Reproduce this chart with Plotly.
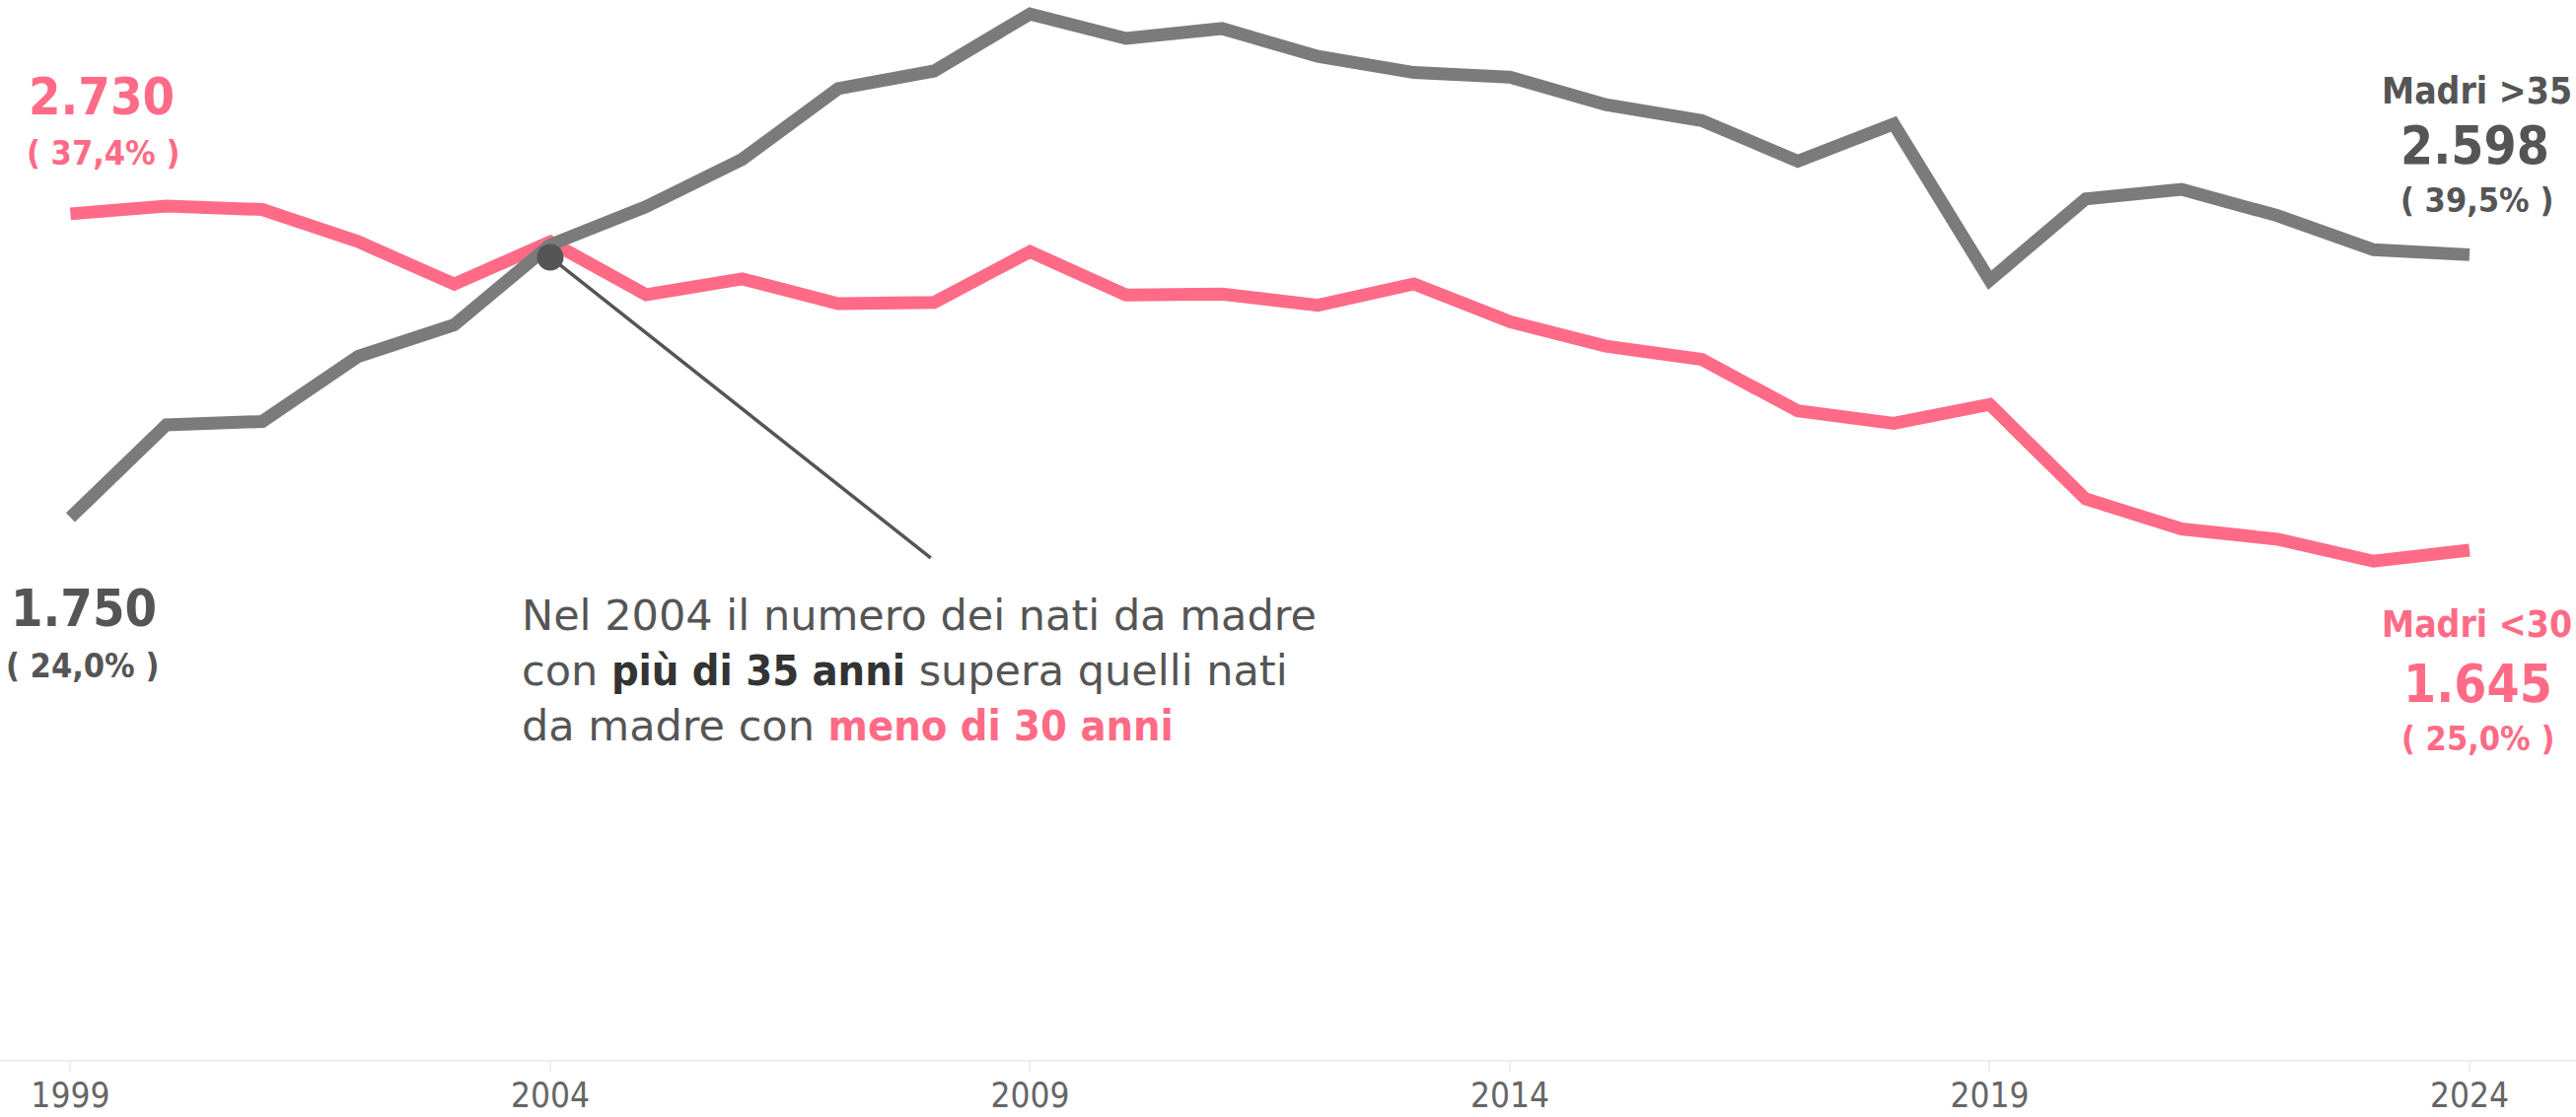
import plotly.graph_objects as go

# ---------------- data ----------------
years = list(range(1999, 2025))
madri_over35 = [1750, 2049, 2060, 2270, 2372, 2630, 2753, 2906, 3134, 3191,
                3375, 3296, 3328, 3238, 3186, 3171, 3082, 3031, 2900, 3020,
                2516, 2778, 2809, 2724, 2614, 2598]
madri_under30 = [2730, 2755, 2744, 2640, 2503, 2640, 2469, 2520, 2440, 2444,
                 2608, 2468, 2471, 2435, 2504, 2382, 2303, 2260, 2094, 2054,
                 2115, 1810, 1713, 1680, 1609, 1645]
tick_years = [1999, 2004, 2009, 2014, 2019, 2024]
pct_over35 = ["24,0%", "39,5%"]     # first, last
pct_under30 = ["37,4%", "25,0%"]    # first, last
label_over35 = "Madri >35"
label_under30 = "Madri <30"
note_year = 2004
note_value = 2590
note_tail = (2007.98, 1616)

# ---------------- style ----------------
W, H = 2612, 1133
PLOT_BOTTOM = 1075
PINK = "#ff6b86"
GREY_LINE = "#7b7b7b"
DARK = "#555555"
FONT_C = "DejaVu Sans Condensed, DejaVu Sans, sans-serif"
FONT_N = "DejaVu Sans, sans-serif"


def fmt(v):
    return f"{v:,}".replace(",", ".")


def px(x):
    return x / W


def py(y):
    return (PLOT_BOTTOM - y) / PLOT_BOTTOM


fig = go.Figure()
fig.add_trace(go.Scatter(x=years, y=madri_under30, mode="lines",
                         line=dict(color=PINK, width=13), hoverinfo="skip"))
fig.add_trace(go.Scatter(x=years, y=madri_over35, mode="lines",
                         line=dict(color=GREY_LINE, width=13), hoverinfo="skip"))
fig.add_trace(go.Scatter(x=[note_year], y=[note_value], mode="markers",
                         marker=dict(color=DARK, size=27), hoverinfo="skip"))

# arrow line
fig.add_annotation(x=note_year, y=note_value, ax=note_tail[0], ay=note_tail[1],
                   axref="x", ayref="y", xref="x", yref="y", text="",
                   showarrow=True, arrowhead=0, arrowwidth=3.5, arrowcolor=DARK)

# note text
BOLD_C = "font-family:DejaVu Sans Condensed;font-weight:bold;"
fig.add_annotation(
    x=px(527), y=py(680), xref="paper", yref="paper", xanchor="left", yanchor="middle",
    align="left", showarrow=False,
    text=("Nel 2004 il numero dei nati da madre<br>"
          f"con <span style='{BOLD_C}color:#333333'>più di 35 anni</span> supera quelli nati<br>"
          f"da madre con <span style='{BOLD_C}color:{PINK}'>meno di 30 anni</span>"),
    font=dict(family=FONT_N, size=43, color=DARK))


def lab(text, x, y, size, color):
    fig.add_annotation(x=px(x), y=py(y), xref="paper", yref="paper",
                       xanchor="center", yanchor="middle", showarrow=False,
                       text=f"<b>{text}</b>", font=dict(family=FONT_C, size=size, color=color))


# start labels
lab(fmt(madri_under30[0]), 103, 98, 52, PINK)
lab(f"( {pct_under30[0]} )", 104, 155, 34, PINK)
lab(fmt(madri_over35[0]), 85, 617, 52, DARK)
lab(f"( {pct_over35[0]} )", 83, 675, 34, DARK)
# end labels
lab(label_over35, 2511, 92, 37, DARK)
lab(fmt(madri_over35[-1]), 2509, 148, 53, DARK)
lab(f"( {pct_over35[-1]} )", 2511, 203, 34, DARK)
lab(label_under30, 2511, 634, 37, PINK)
lab(fmt(madri_under30[-1]), 2512, 693, 53, PINK)
lab(f"( {pct_under30[-1]} )", 2512, 749, 34, PINK)

fig.update_layout(
    width=W, height=H, showlegend=False,
    margin=dict(l=0, r=0, t=0, b=H - PLOT_BOTTOM, pad=0),
    paper_bgcolor="white", plot_bgcolor="white",
    xaxis=dict(range=[1998.266, 2025.11], tickvals=tick_years,
               ticktext=[str(t) for t in tick_years],
               showgrid=False, zeroline=False, showline=True,
               linecolor="#eeeeee", linewidth=2, ticks="outside", ticklen=10,
               tickcolor="#eeeeee", tickwidth=2, automargin=False,
               ticklabelstandoff=-6,
               tickfont=dict(family=FONT_C, size=35, color="#666666")),
    yaxis=dict(range=[0, 3420], showgrid=False, zeroline=False,
               showticklabels=False, showline=False, automargin=False),
)

fig.write_html("out.html", config={"displayModeBar": False},
               post_script="document.body.style.margin='0';document.body.style.overflow='hidden';")
